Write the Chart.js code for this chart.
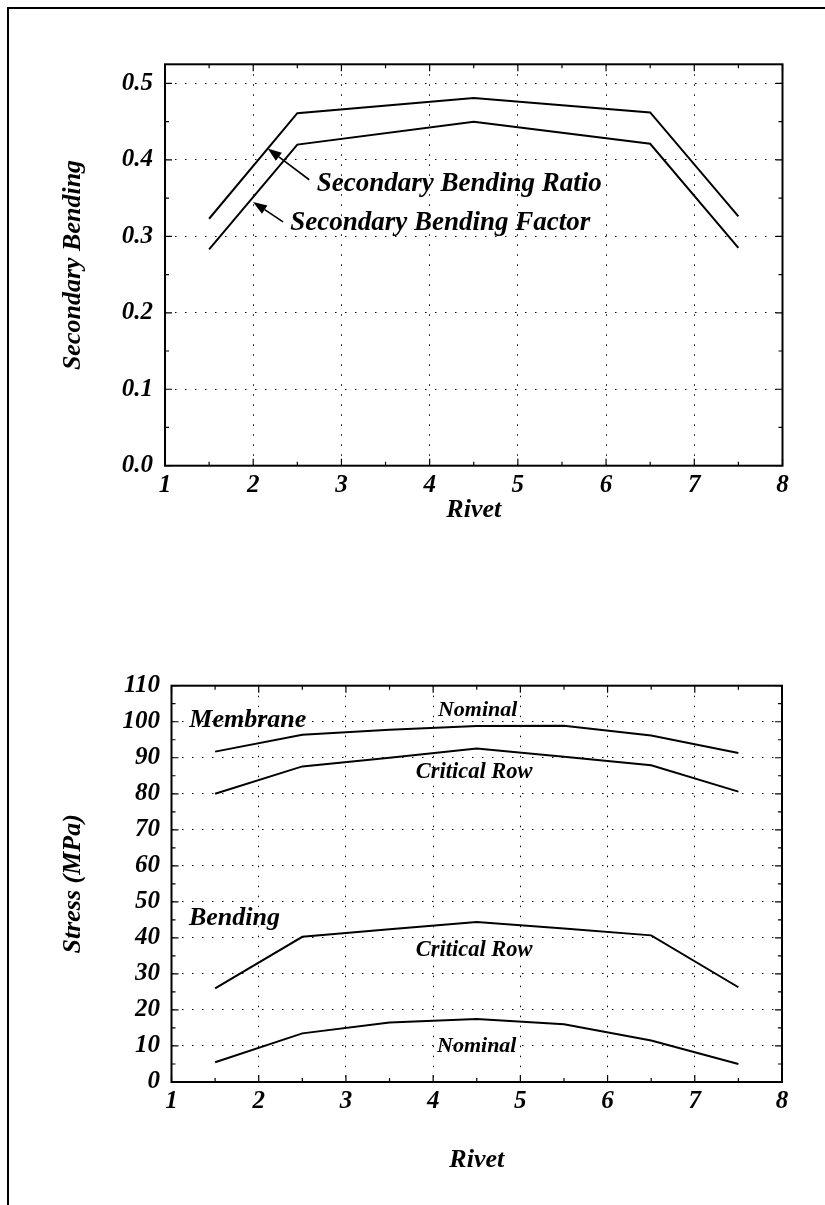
<!DOCTYPE html>
<html><head><meta charset="utf-8">
<script src="https://cdn.jsdelivr.net/npm/chart.js@4.4.0/dist/chart.umd.min.js"></script>
<style>
html,body{margin:0;padding:0;background:#fff;width:825px;height:1205px;overflow:hidden;}
#frame{position:absolute;left:7px;top:7px;width:840px;height:1220px;border-left:2px solid #000;border-top:2px solid #000;}
.c{position:absolute;left:0;}
</style></head><body>
<div id="frame"></div>
<canvas id="topChart" class="c" style="top:0" width="825" height="560"></canvas>
<canvas id="botChart" class="c" style="top:560px" width="825" height="645"></canvas>
<script>
// ---- data ----
const xTicks = [1, 2, 3, 4, 5, 6, 7, 8];
const topRivets = [1.5, 2.5, 4.5, 6.5, 7.5];
const sbRatio  = [0.323, 0.461, 0.481, 0.462, 0.326];
const sbFactor = [0.283, 0.420, 0.450, 0.421, 0.285];
const topYTicks = [0, 0.1, 0.2, 0.3, 0.4, 0.5];

const botRivets = [1.5, 2.5, 3.5, 4.5, 5.5, 6.5, 7.5];
const membraneNominal  = [91.7, 96.4, 97.8, 98.8, 98.9, 96.2, 91.3];
const membraneCritical = [80.0, 87.6, 90.0, 92.6, 90.3, 87.9, 80.6];
const bendingCritical  = [26.0, 40.3, 42.4, 44.4, 42.6, 40.7, 26.3];
const bendingNominal   = [5.5, 13.5, 16.5, 17.5, 16.0, 11.5, 5.0];
const botYTicks = [0, 10, 20, 30, 40, 50, 60, 70, 80, 90, 100, 110];

const topNotes = [
  {text: 'Secondary Bending Ratio', x: 2.72, y: 0.368, align: 'left', size: 27},
  {text: 'Secondary Bending Factor', x: 2.42, y: 0.318, align: 'left', size: 27}
];
const topArrows = [
  {from: [2.635, 0.374], to: [2.164, 0.415]},
  {from: [2.338, 0.319], to: [1.998, 0.345]}
];
const botNotes = [
  {text: 'Membrane', x: 1.204, y: 100.5, align: 'left', size: 26},
  {text: 'Nominal', x: 4.51, y: 103.1, align: 'center', size: 22},
  {text: 'Critical Row', x: 4.47, y: 86.1, align: 'center', size: 22.5},
  {text: 'Bending', x: 1.2, y: 45.5, align: 'left', size: 26},
  {text: 'Critical Row', x: 4.47, y: 36.6, align: 'center', size: 22.5},
  {text: 'Nominal', x: 4.5, y: 10.0, align: 'center', size: 22}
];

const FAMILY = '"Liberation Serif", "Times New Roman", serif';
const FONT_TICK = {family: FAMILY, size: 25, weight: 'bold', style: 'italic'};
const FONT_TITLE = {family: FAMILY, size: 26, weight: 'bold', style: 'italic'};

function pts(xs, ys) { return xs.map((x, i) => ({x: x, y: ys[i]})); }

const framePlugin = {
  id: 'frameTicks',
  afterDraw(chart, args, opts) {
    const ctx = chart.ctx, a = chart.chartArea;
    const xs = chart.scales.x, ys = chart.scales.y;
    ctx.save();
    ctx.strokeStyle = '#000';
    ctx.lineWidth = 2;
    ctx.strokeRect(a.left, a.top, a.right - a.left, a.bottom - a.top);
    ctx.lineWidth = 1.2;
    ctx.beginPath();
    for (let v = 1; v <= 8.001; v += 0.5) {
      const p = xs.getPixelForValue(v);
      const L = Number.isInteger(v) ? 7 : 4;
      ctx.moveTo(p, a.bottom); ctx.lineTo(p, a.bottom - L);
      ctx.moveTo(p, a.top); ctx.lineTo(p, a.top + L);
    }
    const yt = opts.yTicks;
    const step = yt[1] - yt[0];
    for (let i = 0; i < yt.length; i++) {
      const vals = [[yt[i], 7], [yt[i] + step / 2, 4]];
      for (const [v, L] of vals) {
        if (v > ys.max + 1e-9) continue;
        const p = ys.getPixelForValue(v);
        ctx.moveTo(a.left, p); ctx.lineTo(a.left + L, p);
        ctx.moveTo(a.right, p); ctx.lineTo(a.right - L, p);
      }
    }
    ctx.stroke();
    // notes
    ctx.fillStyle = '#000';
    ctx.textBaseline = 'middle';
    for (const n of opts.notes) {
      ctx.font = 'italic bold ' + n.size + 'px ' + FAMILY;
      ctx.textAlign = n.align;
      ctx.fillText(n.text, xs.getPixelForValue(n.x), ys.getPixelForValue(n.y));
    }
    // arrows
    ctx.lineWidth = 1.6;
    for (const ar of opts.arrows) {
      const x1 = xs.getPixelForValue(ar.from[0]), y1 = ys.getPixelForValue(ar.from[1]);
      const x2 = xs.getPixelForValue(ar.to[0]), y2 = ys.getPixelForValue(ar.to[1]);
      const ang = Math.atan2(y2 - y1, x2 - x1);
      const hl = 14, hw = 5;
      const bx = x2 - hl * Math.cos(ang), by = y2 - hl * Math.sin(ang);
      ctx.beginPath(); ctx.moveTo(x1, y1); ctx.lineTo(bx, by); ctx.stroke();
      ctx.beginPath();
      ctx.moveTo(x2, y2);
      ctx.lineTo(bx + hw * Math.sin(ang), by - hw * Math.cos(ang));
      ctx.lineTo(bx - hw * Math.sin(ang), by + hw * Math.cos(ang));
      ctx.closePath(); ctx.fill();
    }
    ctx.restore();
  }
};

function makeChart(id, cfg) {
  return new Chart(document.getElementById(id), {
    type: 'line',
    data: {datasets: cfg.datasets.map(d => ({data: d, borderColor: '#000', borderWidth: 2, pointRadius: 0, tension: 0, fill: false}))},
    plugins: [framePlugin],
    options: {
      responsive: false, animation: false,
      layout: {padding: {left: cfg.padL, right: cfg.padR, top: cfg.padT, bottom: cfg.padB}},
      plugins: {legend: {display: false}, tooltip: {enabled: false},
                frameTicks: {yTicks: cfg.yTicks, notes: cfg.notes, arrows: cfg.arrows}},
      scales: {
        x: {
          type: 'linear', min: 1, max: 8,
          afterBuildTicks: s => { s.ticks = xTicks.map(v => ({value: v})); },
          afterFit: s => { s.height = cfg.xH; },
          grid: {color: c => (c.tick && c.tick.value > 1 && c.tick.value < 8) ? '#000' : 'rgba(0,0,0,0)', lineWidth: 1, drawTicks: false},
          border: {display: false, dash: [1.5, 8.5]},
          ticks: {padding: cfg.xPad, color: '#000', font: FONT_TICK, maxRotation: 0, callback: v => String(v)},
          title: {display: true, text: 'Rivet', color: '#000', font: FONT_TITLE, padding: 0}
        },
        y: {
          type: 'linear', min: 0, max: cfg.yMax,
          afterBuildTicks: s => { s.ticks = cfg.yTicks.map(v => ({value: v})); },
          afterFit: s => { s.width = cfg.yW; },
          grid: {color: c => (c.tick && c.tick.value > 0 && c.tick.value < cfg.yMax - 1e-9) ? '#000' : 'rgba(0,0,0,0)', lineWidth: 1, drawTicks: false},
          border: {display: false, dash: [1.5, 8.5]},
          ticks: {padding: cfg.yPad, color: '#000', font: FONT_TICK, callback: cfg.fmt},
          title: {display: true, text: cfg.yTitle, color: '#000', font: FONT_TITLE, padding: 0}
        }
      }
    }
  });
}

makeChart('topChart', {
  datasets: [pts(topRivets, sbRatio), pts(topRivets, sbFactor)],
  yMax: 0.525, yTicks: topYTicks, fmt: v => Number(v).toFixed(1),
  yTitle: 'Secondary Bending',
  padL: 58, yW: 107, padR: 42.5, padT: 64.3, xH: 60, padB: 34.3,
  xPad: 5, yPad: 12,
  notes: topNotes, arrows: topArrows
});

makeChart('botChart', {
  datasets: [pts(botRivets, membraneNominal), pts(botRivets, membraneCritical),
             pts(botRivets, bendingCritical), pts(botRivets, bendingNominal)],
  yMax: 110, yTicks: botYTicks, fmt: v => String(v),
  yTitle: 'Stress (MPa)',
  padL: 58, yW: 113.5, padR: 43, padT: 125.7, xH: 93.6, padB: 29.4,
  xPad: 5, yPad: 11.5,
  notes: botNotes, arrows: []
});
</script>
</body></html>
